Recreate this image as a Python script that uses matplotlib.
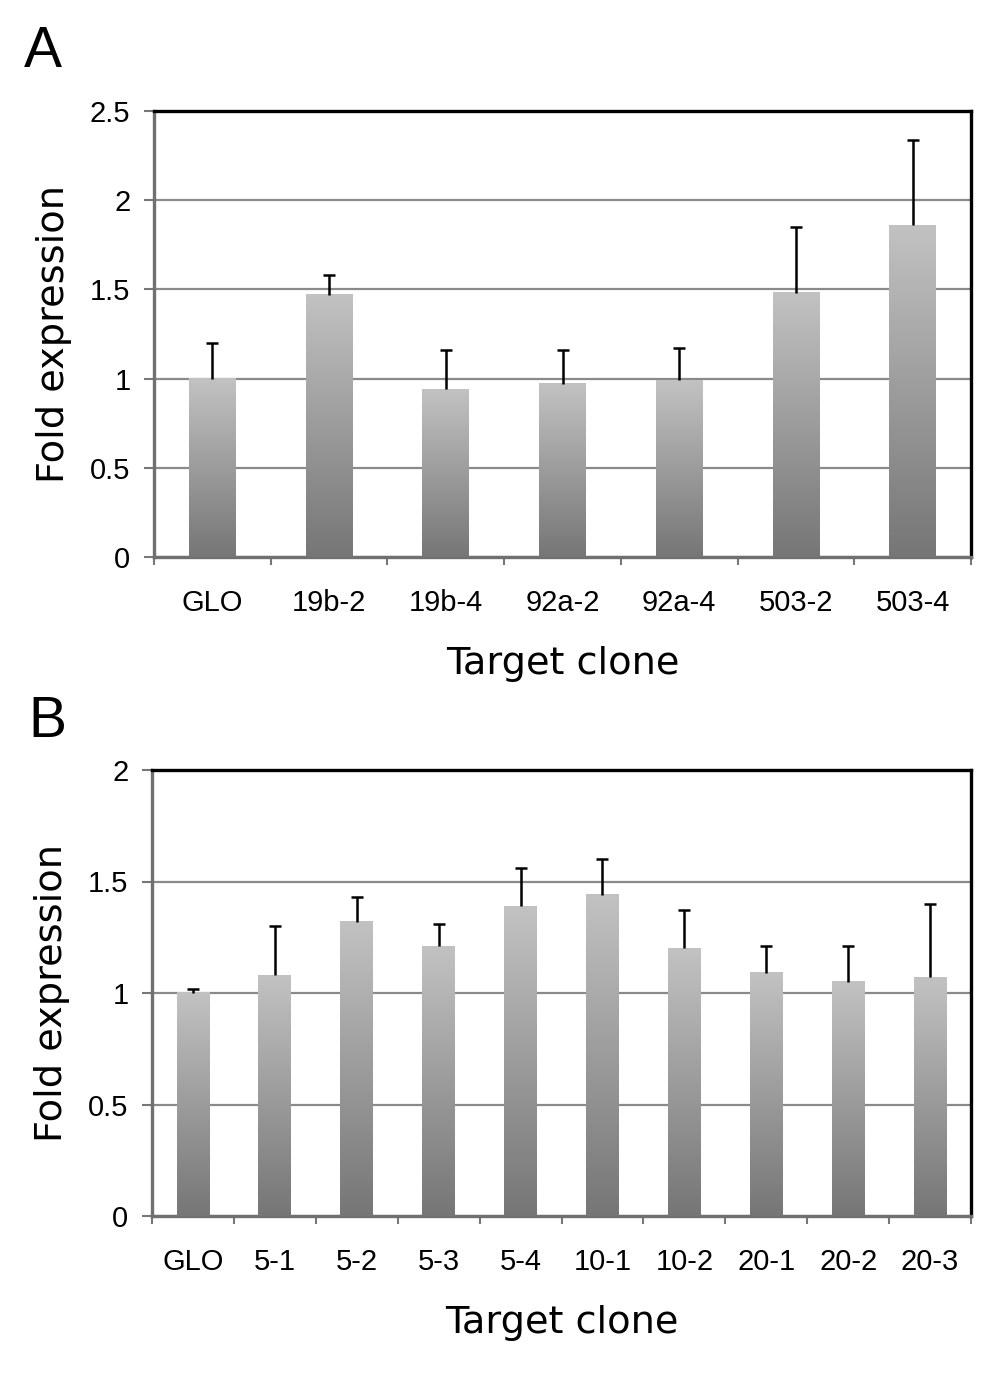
import numpy as np
import matplotlib
matplotlib.use("Agg")
import matplotlib.pyplot as plt
from matplotlib.colors import LinearSegmentedColormap

# ---- data ----
cats_a = ["GLO", "19b-2", "19b-4", "92a-2", "92a-4", "503-2", "503-4"]
vals_a = [1.00, 1.47, 0.94, 0.97, 0.99, 1.48, 1.86]
err_a = [0.20, 0.11, 0.22, 0.19, 0.18, 0.37, 0.48]
yticks_a = [0, 0.5, 1, 1.5, 2, 2.5]
ytl_a = ["0", "0.5", "1", "1.5", "2", "2.5"]

cats_b = ["GLO", "5-1", "5-2", "5-3", "5-4", "10-1", "10-2", "20-1", "20-2", "20-3"]
vals_b = [1.00, 1.08, 1.32, 1.21, 1.39, 1.44, 1.20, 1.09, 1.05, 1.07]
err_b = [0.02, 0.22, 0.11, 0.10, 0.17, 0.16, 0.17, 0.12, 0.16, 0.33]
yticks_b = [0, 0.5, 1, 1.5, 2]
ytl_b = ["0", "0.5", "1", "1.5", "2"]

W, H = 1004, 1383
fig = plt.figure(figsize=(W / 100, H / 100), dpi=100)

cmap = LinearSegmentedColormap.from_list("g", ["#767676", "#c2c2c2"])
grad = np.linspace(0, 1, 256).reshape(-1, 1)

TICKFONT = "Liberation Sans"
LABFONT = "DejaVu Sans"


def panel(rect, cats, vals, errs, yticks, ytl, ymax, letter, letter_xy):
    ax = fig.add_axes(rect)
    n = len(cats)
    x = np.arange(n)
    bars = ax.bar(x, vals, width=0.40, color="none", edgecolor="none", zorder=3)
    for p in bars.patches:
        bx, bw, bh = p.get_x(), p.get_width(), p.get_height()
        ax.imshow(grad, cmap=cmap, origin="lower", aspect="auto",
                  extent=[bx, bx + bw, 0, bh], zorder=3, interpolation="bicubic")
    eb = ax.errorbar(x, vals, yerr=[np.zeros(n), errs], fmt="none", ecolor="black",
                     elinewidth=1.8, capsize=4.5, capthick=1.8, zorder=4)
    caps = eb[1]
    if len(caps) == 2:
        caps[0].set_visible(False)
    ax.set_xlim(-0.5, n - 0.5)
    ax.set_ylim(0, ymax)
    ax.set_yticks(yticks)
    ax.set_yticklabels(ytl, fontfamily=TICKFONT, fontsize=21)
    ax.set_xticks(x)
    ax.set_xticklabels(cats, fontfamily=TICKFONT, fontsize=21)
    ax.set_xticks(np.arange(-0.5, n, 1.0), minor=True)
    ax.tick_params(axis="x", which="major", length=0, pad=23)
    ax.tick_params(axis="x", which="minor", length=6, width=1.5, color="#777777",
                   direction="out")
    ax.tick_params(axis="y", length=7, width=1.5, color="#777777", pad=10)
    ax.yaxis.grid(True, color="#8a8a8a", linewidth=1.6, zorder=1)
    ax.set_axisbelow(True)
    for s in ["top", "right"]:
        ax.spines[s].set_color("black")
        ax.spines[s].set_linewidth(2.4)
    for s in ["left", "bottom"]:
        ax.spines[s].set_color("#707070")
        ax.spines[s].set_linewidth(2.4)
    ax.set_xlabel("Target clone", fontfamily=LABFONT, fontsize=27.5, labelpad=21)
    ax.set_ylabel("Fold expression", fontfamily=LABFONT, fontsize=27.5, labelpad=13)
    fig.text(letter_xy[0] / W, 1 - letter_xy[1] / H, letter, fontfamily=TICKFONT,
             fontsize=41, ha="left", va="baseline")
    return ax


panel([154 / W, 1 - 557 / H, (971 - 154) / W, 446 / H], cats_a, vals_a, err_a,
      yticks_a, ytl_a, 2.5, "A", (24, 67))
panel([152 / W, 1 - 1216 / H, (971 - 152) / W, 446 / H], cats_b, vals_b, err_b,
      yticks_b, ytl_b, 2.0, "B", (28, 737))

fig.savefig("out.png", dpi=100, facecolor="white")
